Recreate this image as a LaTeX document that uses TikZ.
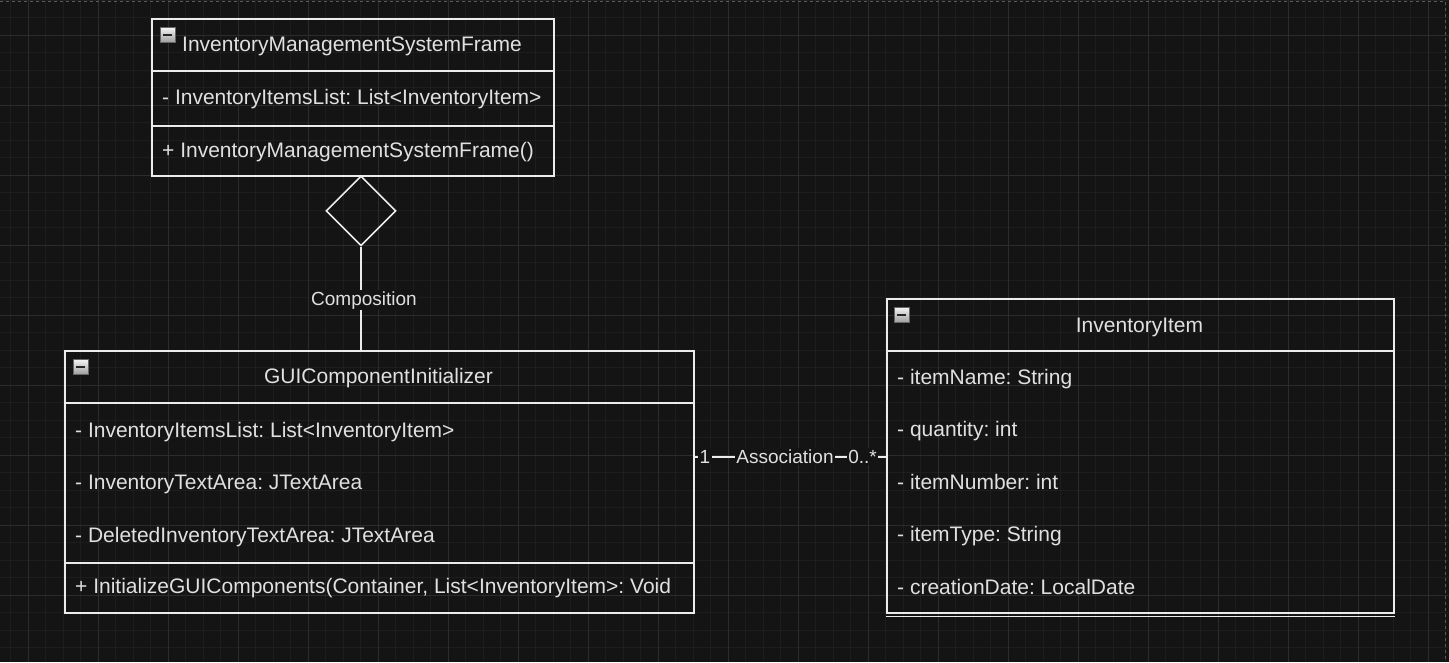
\documentclass[tikz,border=0pt]{standalone}
\usepackage{fontspec}
\setmainfont{Liberation Sans}
\usetikzlibrary{shapes.geometric}
\definecolor{canvas}{HTML}{141414}
\definecolor{gridminor}{HTML}{1D1D1D}
\definecolor{gridmajor}{HTML}{2C2C2C}
\definecolor{pageedge}{HTML}{5A5A5A}
\definecolor{umlwhite}{HTML}{ECECEC}
\definecolor{umltext}{HTML}{E0E0E0}
\frenchspacing

\begin{document}
\begin{tikzpicture}[x=1pt,y=-1pt,
	umlbox/.style={draw=umlwhite, line width=1.6pt, anchor=north west, inner sep=0pt},
	umlline/.style={draw=umlwhite, line width=1.6pt},
	classtitle/.style={anchor=base, inner sep=0pt, text=umltext, font=\fontsize{21}{24}\selectfont},
	member/.style={anchor=base west, inner sep=0pt, text=umltext, font=\fontsize{21}{24}\selectfont},
	edgelabel/.style={anchor=base, fill=canvas, inner sep=1.5pt, text=umltext, font=\fontsize{19}{22}\selectfont},
	toggle/.style={anchor=north west, minimum size=15pt, inner sep=0pt, draw=black!60, top color=white!92!gray, bottom color=gray!75,
		path picture={\fill[black!85] ([xshift=3pt,yshift=-1pt]path picture bounding box.west) rectangle ([xshift=-3pt,yshift=1pt]path picture bounding box.east);}}]
	\useasboundingbox (0,0) rectangle (1449,662);
	\fill[canvas] (0,0) rectangle (1449,662);
	\foreach \gx in {10.5,28,...,1449} \draw[gridminor, line width=1pt] (\gx,0) -- (\gx,662);
	\foreach \gy in {0,17.5,...,662} \draw[gridminor, line width=1pt] (0,\gy) -- (1449,\gy);
	\foreach \gx in {28,98,...,1449} \draw[gridmajor, line width=1pt] (\gx,0) -- (\gx,662);
	\foreach \gy in {35,105,...,662} \draw[gridmajor, line width=1pt] (0,\gy) -- (1449,\gy);
	\draw[pageedge, dashed, line width=1pt] (0,1) -- (1445,1) -- (1445,662);

	\node[umlbox, minimum width=402, minimum height=157] (frame) at (151,18) {};
	\draw[umlline] (frame.west |- 0,71) -- (frame.east |- 0,71);
	\draw[umlline] (frame.west |- 0,126) -- (frame.east |- 0,126);
	\node[toggle] (frametoggle) at (160,27) {};
	\node[classtitle] (frametitle) at (352,51) {InventoryManagementSystemFrame};
	\node[member] (frameattr) at (162,104) {- InventoryItemsList: List<InventoryItem>};
	\node[member] (frameop) at (162,157) {+ InventoryManagementSystemFrame()};

	\node[umlbox, minimum width=629, minimum height=262] (gui) at (64,350) {};
	\draw[umlline] (gui.west |- 0,403) -- (gui.east |- 0,403);
	\draw[umlline] (gui.west |- 0,563) -- (gui.east |- 0,563);
	\node[toggle] (guitoggle) at (73,359) {};
	\node[classtitle] (guititle) at (378.5,383) {GUIComponentInitializer};
	\node[member] (guiattra) at (75,437) {- InventoryItemsList: List<InventoryItem>};
	\node[member] (guiattrb) at (75,489.5) {- InventoryTextArea: JTextArea};
	\node[member] (guiattrc) at (75,542) {- DeletedInventoryTextArea: JTextArea};
	\node[member] (guiop) at (75,593) {+ InitializeGUIComponents(Container, List<InventoryItem>: Void};

	\node[umlbox, minimum width=507, minimum height=314] (item) at (886,298) {};
	\draw[umlline] (item.west |- 0,351) -- (item.east |- 0,351);
	\draw[umlline] ([yshift=-3pt]item.south west) -- ([yshift=-3pt]item.south east);
	\node[toggle] (itemtoggle) at (894,307) {};
	\node[classtitle] (itemtitle) at (1139.5,332) {InventoryItem};
	\node[member] (itemname) at (897,384) {- itemName: String};
	\node[member] (itemqty) at (897,436.5) {- quantity: int};
	\node[member] (itemnum) at (897,489) {- itemNumber: int};
	\node[member] (itemtype) at (897,541.5) {- itemType: String};
	\node[member] (itemdate) at (897,594) {- creationDate: LocalDate};

	\node[diamond, umlline, minimum width=70, minimum height=70, inner sep=0pt, anchor=north] (compo) at (361,175) {};
	\draw[umlline] (compo.south) -- (compo.south |- gui.north);
	\node[edgelabel] (complbl) at (364,305) {Composition};

	\draw[umlline] (gui.east |- 0,457) -- (item.west |- 0,457);
	\node[edgelabel] (multone) at (705,463) {1};
	\node[edgelabel] (assoclbl) at (785,463) {Association};
	\node[edgelabel] (multmany) at (862.5,463) {0..*};
\end{tikzpicture}
\end{document}
